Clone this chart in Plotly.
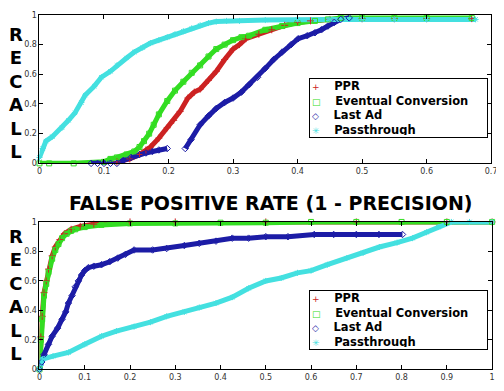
import plotly.graph_objects as go

# ---------------- data ----------------
series_names = ["PPR", "Eventual Conversion", "Last Ad", "Passthrough"]

# Top panel
ppr_top_x = [0.12, 0.14, 0.155, 0.165, 0.172, 0.185, 0.198, 0.208, 0.218, 0.23, 0.24, 0.249, 0.262, 0.274,
             0.287, 0.3, 0.31, 0.32, 0.34, 0.36, 0.38, 0.4, 0.42, 0.45, 0.5, 0.55, 0.6, 0.67]
ppr_top_y = [0.01, 0.03, 0.06, 0.09, 0.11, 0.17, 0.24, 0.29, 0.35, 0.44, 0.48, 0.5, 0.56, 0.62,
             0.7, 0.77, 0.8, 0.84, 0.87, 0.9, 0.93, 0.95, 0.96, 0.97, 0.975, 0.975, 0.975, 0.975]

ec_top_x = [0, 0.015, 0.053, 0.1, 0.11, 0.12, 0.135, 0.147, 0.155, 0.162, 0.17, 0.177, 0.185, 0.198, 0.21,
            0.223, 0.236, 0.249, 0.262, 0.274, 0.287, 0.3, 0.313, 0.325, 0.35, 0.376, 0.4, 0.427, 0.447,
            0.467, 0.5, 0.55, 0.6, 0.67]
ec_top_y = [0, 0, 0, 0.01, 0.03, 0.04, 0.06, 0.08, 0.11, 0.15, 0.2, 0.26, 0.33, 0.42, 0.49,
            0.55, 0.61, 0.66, 0.72, 0.77, 0.8, 0.83, 0.85, 0.86, 0.9, 0.925, 0.945, 0.96, 0.97,
            0.98, 0.98, 0.98, 0.98, 0.98]

la_top_x = [0.08, 0.09, 0.1, 0.11, 0.12, 0.13, 0.142, 0.155, 0.165, 0.175, 0.185, 0.198, None,
            0.226, 0.235, 0.249, 0.262, 0.274, 0.287, 0.3, 0.313, 0.325, 0.338, 0.35, 0.363, 0.376,
            0.39, 0.401, 0.415, 0.427, 0.437, 0.447, 0.457, 0.467, 0.48]
la_top_y = [0, 0, 0, 0, 0, 0.02, 0.04, 0.06, 0.07, 0.08, 0.09, 0.1, None,
            0.1, 0.16, 0.26, 0.32, 0.37, 0.41, 0.44, 0.48, 0.53, 0.58, 0.64, 0.7, 0.75,
            0.8, 0.84, 0.86, 0.88, 0.9, 0.925, 0.95, 0.97, 0.98]

pt_top_x = [0, 0.005, 0.01, 0.02, 0.035, 0.045, 0.055, 0.065, 0.071, 0.085, 0.096, 0.11, 0.12, 0.135,
            0.147, 0.16, 0.172, 0.185, 0.198, 0.21, 0.223, 0.236, 0.249, 0.262, 0.274, 0.29, 0.31,
            0.35, 0.4, 0.45, 0.5, 0.55, 0.6, 0.676]
pt_top_y = [0.04, 0.1, 0.15, 0.18, 0.24, 0.29, 0.34, 0.41, 0.46, 0.52, 0.58, 0.62, 0.66, 0.71,
            0.75, 0.78, 0.81, 0.83, 0.85, 0.87, 0.89, 0.91, 0.93, 0.945, 0.955, 0.96, 0.96,
            0.965, 0.97, 0.97, 0.97, 0.97, 0.97, 0.97]

# Bottom panel
ppr_bot_x = [0, 0.003, 0.006, 0.01, 0.015, 0.02, 0.028, 0.035, 0.045, 0.055, 0.07, 0.09, 0.12, 0.2,
             0.3, 0.5, 0.7, 0.9, 1.0]
ppr_bot_y = [0, 0.22, 0.36, 0.52, 0.6, 0.68, 0.77, 0.83, 0.88, 0.92, 0.95, 0.97, 0.985, 1,
             1, 1, 1, 1, 1]

ec_bot_x = [0, 0.003, 0.006, 0.01, 0.015, 0.02, 0.028, 0.035, 0.042, 0.05, 0.06, 0.07, 0.079, 0.1,
            0.137, 0.2, 0.3, 0.4, 0.5, 0.6, 0.7, 0.8, 0.9, 1.0]
ec_bot_y = [0, 0.2, 0.34, 0.5, 0.58, 0.66, 0.75, 0.81, 0.85, 0.89, 0.92, 0.94, 0.95, 0.965,
            0.98, 0.99, 0.99, 0.995, 0.995, 1, 1, 1, 1, 1]

la_bot_x = [0, 0.005, 0.01, 0.02, 0.028, 0.04, 0.05, 0.058, 0.064, 0.072, 0.079, 0.086, 0.093, 0.1,
            0.108, 0.12, 0.137, 0.155, 0.173, 0.19, 0.209, 0.25, 0.281, 0.32, 0.353, 0.39, 0.426,
            0.462, 0.5, 0.549, 0.607, 0.65, 0.7, 0.75, 0.802]
la_bot_y = [0, 0.05, 0.1, 0.17, 0.225, 0.28, 0.34, 0.39, 0.45, 0.5, 0.56, 0.6, 0.64, 0.67,
            0.69, 0.7, 0.71, 0.73, 0.755, 0.78, 0.81, 0.81, 0.82, 0.84, 0.855, 0.87, 0.89,
            0.89, 0.9, 0.9, 0.915, 0.915, 0.915, 0.915, 0.915]

pt_bot_x = [0, 0.007, 0.03, 0.064, 0.1, 0.137, 0.17, 0.209, 0.245, 0.281, 0.32, 0.353, 0.39, 0.426,
            0.462, 0.5, 0.534, 0.57, 0.6, 0.636, 0.679, 0.715, 0.751, 0.79, 0.824, 0.855, 0.881,
            0.91, 0.95, 1.0]
pt_bot_y = [0, 0.07, 0.09, 0.115, 0.17, 0.225, 0.26, 0.29, 0.32, 0.36, 0.39, 0.42, 0.45, 0.49,
            0.55, 0.6, 0.62, 0.655, 0.67, 0.71, 0.755, 0.79, 0.83, 0.86, 0.89, 0.93, 0.965,
            1.0, 1.0, 1.0]

top_x_ticks = [0, 0.1, 0.2, 0.3, 0.4, 0.5, 0.6, 0.7]
bot_x_ticks = [0, 0.1, 0.2, 0.3, 0.4, 0.5, 0.6, 0.7, 0.8, 0.9, 1]
y_ticks = [0, 0.2, 0.4, 0.6, 0.8, 1]

# ---------------- styles ----------------
colors = ["#cc2222", "#33dd22", "#1c1ca6", "#44e0e0"]
symbols = ["cross-thin-open", "square-open", "diamond-open", "asterisk-open"]
legend_glyphs = ["+", "□", "◇", "✳"]

# page body has an 8px margin, so the figure is 8px smaller than the window
W, H = 496, 383

fig = go.Figure()

panels = [
    ("x", "y",
     [(ppr_top_x, ppr_top_y), (ec_top_x, ec_top_y), (la_top_x, la_top_y), (pt_top_x, pt_top_y)]),
    ("x2", "y2",
     [(ppr_bot_x, ppr_bot_y), (ec_bot_x, ec_bot_y), (la_bot_x, la_bot_y), (pt_bot_x, pt_bot_y)]),
]

for xa, ya, data in panels:
    for i, (xs, ys) in enumerate(data):
        fig.add_trace(go.Scatter(x=xs, y=ys, xaxis=xa, yaxis=ya, mode="lines",
                                 line=dict(color=colors[i], width=5), showlegend=False,
                                 hoverinfo="skip", cliponaxis=False))
    for i, (xs, ys) in enumerate(data):
        fig.add_trace(go.Scatter(x=xs, y=ys, xaxis=xa, yaxis=ya, mode="markers",
                                 name=series_names[i], showlegend=False, cliponaxis=False,
                                 marker=dict(symbol=symbols[i], size=5, color=colors[i],
                                             line=dict(color=colors[i], width=1))))

axis_common = dict(showline=True, linecolor="black", linewidth=1, mirror="ticks",
                   ticks="inside", ticklen=4, tickcolor="black", showgrid=False, zeroline=False,
                   tickfont=dict(family="DejaVu Sans", size=8, color="#333333"))

fig.update_layout(
    width=W, height=H,
    margin=dict(l=0, r=0, t=0, b=0),
    paper_bgcolor="white", plot_bgcolor="white",
    xaxis=dict(domain=[29 / W, 489 / W], range=[0, 0.7], tickvals=top_x_ticks, anchor="y", **axis_common),
    yaxis=dict(domain=[1 - 155 / H, 1 - 3 / H], range=[0, 1], tickvals=y_ticks, anchor="x", **axis_common),
    xaxis2=dict(domain=[29 / W, 490 / W], range=[0, 1], tickvals=bot_x_ticks, anchor="y2", **axis_common),
    yaxis2=dict(domain=[1 - 366 / H, 1 - 215 / H], range=[0, 1], tickvals=y_ticks, anchor="x2", **axis_common),
    showlegend=False,
)

# legend boxes (key) built as text
legend_text = "<br>".join(
    f"<span style='color:{colors[i]};font-size:9px'>{legend_glyphs[i]}</span>&nbsp;&nbsp;&nbsp;&nbsp;<b>{series_names[i]}</b>"
    for i in range(4))
for ytop in [68, 285]:
    fig.add_annotation(text=legend_text, xref="paper", yref="paper", x=303 / W, y=1 - ytop / H,
                       xanchor="left", yanchor="top", align="left", showarrow=False,
                       width=173, height=54, valign="middle",
                       bgcolor="white", bordercolor="black", borderwidth=1, borderpad=2,
                       font=dict(family="DejaVu Sans", size=11.5, color="black"))

fig.add_annotation(text="<b>FALSE POSITIVE RATE (1 - PRECISION)</b>", xref="paper", yref="paper",
                   x=265 / W, y=1 - 196 / H, xanchor="center", yanchor="middle", showarrow=False,
                   font=dict(family="DejaVu Sans", size=19, color="black"))
for yc in [83, 290]:
    fig.add_annotation(text="<b>R<br>E<br>C<br>A<br>L<br>L</b>", xref="paper", yref="paper",
                       x=0, y=1 - yc / H, xanchor="left", yanchor="middle", showarrow=False,
                       borderpad=0, xshift=-3,
                       font=dict(family="DejaVu Sans", size=18, color="black"))

fig.write_html("out.html")
